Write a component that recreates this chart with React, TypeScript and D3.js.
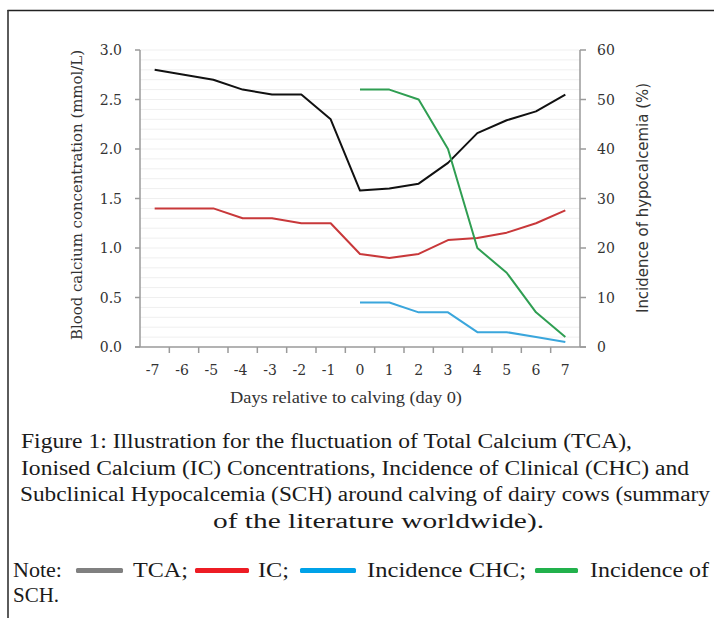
import React, { useEffect, useRef } from 'react';
import * as d3 from 'd3';

// days relative to calving
const days = [-7, -6, -5, -4, -3, -2, -1, 0, 1, 2, 3, 4, 5, 6, 7];
// blood calcium (mmol/L), left axis
const tca = [2.8, 2.75, 2.7, 2.6, 2.55, 2.55, 2.3, 1.58, 1.6, 1.65, 1.86, 2.16, 2.29, 2.38, 2.55];
const ic = [1.4, 1.4, 1.4, 1.3, 1.3, 1.25, 1.25, 0.94, 0.9, 0.94, 1.08, 1.1, 1.155, 1.25, 1.38];
// incidence (%), right axis, day 0..7
const incDays = [0, 1, 2, 3, 4, 5, 6, 7];
const chc = [9, 9, 7, 7, 3, 3, 2, 1];
const sch = [52, 52, 50, 40, 20, 15, 7, 2];

const leftTicks = [0, 0.5, 1.0, 1.5, 2.0, 2.5, 3.0];
const rightTicks = [0, 10, 20, 30, 40, 50, 60];

const captionLines = [
  'Figure 1: Illustration for the fluctuation of Total Calcium (TCA),',
  'Ionised Calcium (IC) Concentrations, Incidence of Clinical (CHC) and',
  'Subclinical Hypocalcemia (SCH) around calving of dairy cows (summary',
  'of the literature worldwide).',
];

const App = () => {
  const ref = useRef<SVGSVGElement>(null);

  useEffect(() => {
    const svg = d3.select(ref.current);
    svg.selectAll('*').remove();

    const x0 = 140, x1 = 580, yTop = 50, yBot = 347;
    const x = d3.scaleBand<number>().domain(days).range([x0, x1]);
    const cx = (d: number) => (x(d) as number) + x.bandwidth() / 2;
    const yL = d3.scaleLinear().domain([0, 3]).range([yBot, yTop]);
    const yR = d3.scaleLinear().domain([0, 60]).range([yBot, yTop]);

    // frame
    svg.append('line').attr('x1', 7.5).attr('x2', 714).attr('y1', 10.5).attr('y2', 10.5)
      .attr('stroke', '#222').attr('stroke-width', 1.6);
    svg.append('line').attr('x1', 8).attr('x2', 8).attr('y1', 10).attr('y2', 618)
      .attr('stroke', '#333').attr('stroke-width', 1.6);

    // faint grid every 0.1
    svg.append('g').selectAll('line')
      .data(d3.range(1, 31).map(i => i / 10))
      .enter().append('line')
      .attr('x1', x0).attr('x2', x1)
      .attr('y1', d => yL(d)).attr('y2', d => yL(d))
      .attr('stroke', '#efefef').attr('stroke-width', 1);

    const axisColor = '#9a9a9a';
    const tickFont = 'DejaVu Serif';

    // left axis
    const gl = svg.append('g');
    gl.append('line').attr('x1', x0).attr('x2', x0).attr('y1', yTop).attr('y2', yBot)
      .attr('stroke', axisColor).attr('stroke-width', 1.5);
    gl.selectAll('.tk').data(leftTicks).enter().append('line')
      .attr('x1', x0 - 5).attr('x2', x0).attr('y1', d => yL(d)).attr('y2', d => yL(d))
      .attr('stroke', axisColor).attr('stroke-width', 1.5);
    gl.selectAll('text').data(leftTicks).enter().append('text')
      .attr('x', 122).attr('y', d => yL(d) + 5)
      .attr('text-anchor', 'end')
      .style('font-family', tickFont).style('font-size', '14px').attr('fill', '#333')
      .text(d => d3.format('.1f')(d));

    // right axis
    const gr = svg.append('g');
    gr.append('line').attr('x1', x1).attr('x2', x1).attr('y1', yTop).attr('y2', yBot)
      .attr('stroke', axisColor).attr('stroke-width', 1.5);
    gr.selectAll('.tk').data(rightTicks).enter().append('line')
      .attr('x1', x1).attr('x2', x1 + 6).attr('y1', d => yR(d)).attr('y2', d => yR(d))
      .attr('stroke', axisColor).attr('stroke-width', 1.5);
    gr.selectAll('text').data(rightTicks).enter().append('text')
      .attr('x', 597).attr('y', d => yR(d) + 5)
      .style('font-family', tickFont).style('font-size', '14px').attr('fill', '#333')
      .text(d => d);

    // bottom axis
    const gb = svg.append('g');
    gb.append('line').attr('x1', x0 - 5).attr('x2', x1 + 6).attr('y1', yBot).attr('y2', yBot)
      .attr('stroke', axisColor).attr('stroke-width', 1.5);
    gb.selectAll('.tk').data(days.slice(1)).enter().append('line')
      .attr('x1', d => x(d) as number).attr('x2', d => x(d) as number)
      .attr('y1', yBot).attr('y2', yBot + 6)
      .attr('stroke', axisColor).attr('stroke-width', 1.5);
    gb.selectAll('text').data(days).enter().append('text')
      .attr('x', d => cx(d) - (d < 0 ? 2 : 0)).attr('y', 375)
      .attr('text-anchor', 'middle')
      .style('font-family', tickFont).style('font-size', '14px').attr('fill', '#333')
      .text(d => d);

    // axis titles
    svg.append('text')
      .attr('transform', 'translate(82,195) rotate(-90)')
      .attr('text-anchor', 'middle')
      .attr('textLength', 290).attr('lengthAdjust', 'spacingAndGlyphs')
      .style('font-family', 'DejaVu Serif').style('font-size', '14px').attr('fill', '#333')
      .text('Blood calcium concentration (mmol/L)');
    svg.append('text')
      .attr('transform', 'translate(648,198) rotate(-90)')
      .attr('text-anchor', 'middle')
      .attr('textLength', 230).attr('lengthAdjust', 'spacingAndGlyphs')
      .style('font-family', 'DejaVu Sans').style('font-size', '15px').attr('fill', '#333')
      .text('Incidence of hypocalcemia (%)');
    svg.append('text')
      .attr('x', 230).attr('y', 403)
      .attr('textLength', 232).attr('lengthAdjust', 'spacingAndGlyphs')
      .style('font-family', 'Liberation Serif').style('font-size', '17px').attr('fill', '#333')
      .text('Days relative to calving (day 0)');

    // lines
    const lineL = d3.line<number>().x((_, i) => cx(days[i])).y(d => yL(d));
    const lineR = d3.line<number>().x((_, i) => cx(incDays[i])).y(d => yR(d));
    const series = [
      { d: lineL(tca), c: '#111111' },
      { d: lineL(ic), c: '#c8383a' },
      { d: lineR(chc), c: '#3aa6dc' },
      { d: lineR(sch), c: '#2f9e52' },
    ];
    svg.append('g').selectAll('path').data(series).enter().append('path')
      .attr('d', s => s.d as string)
      .attr('fill', 'none').attr('stroke', s => s.c).attr('stroke-width', 2)
      .attr('stroke-linejoin', 'round');

    // caption
    const capPos = [
      { x: 21, w: 611, y: 448 },
      { x: 21, w: 668, y: 474.5 },
      { x: 20, w: 690, y: 501 },
      { x: 213, w: 331, y: 527.5 },
    ];
    svg.append('g').selectAll('text').data(captionLines).enter().append('text')
      .attr('x', (_, i) => capPos[i].x).attr('y', (_, i) => capPos[i].y)
      .attr('textLength', (_, i) => capPos[i].w).attr('lengthAdjust', 'spacingAndGlyphs')
      .style('font-family', 'Liberation Serif').style('font-size', '20px').attr('fill', '#1a1a1a')
      .text(d => d);

    // note legend
    const noteWords = [
      { t: 'Note:', x: 13, w: 49 },
      { t: 'TCA;', x: 133, w: 55 },
      { t: 'IC;', x: 258, w: 31 },
      { t: 'Incidence CHC;', x: 367, w: 159 },
      { t: 'Incidence of', x: 590, w: 119 },
    ];
    const swatches = [
      { x: 76, w: 47, c: '#808080' },
      { x: 195, w: 54, c: '#ed1c24' },
      { x: 300, w: 56, c: '#00a2e8' },
      { x: 535, w: 43, c: '#22b14c' },
    ];
    svg.append('g').selectAll('text').data(noteWords).enter().append('text')
      .attr('x', d => d.x).attr('y', 577)
      .attr('textLength', d => d.w).attr('lengthAdjust', 'spacingAndGlyphs')
      .style('font-family', 'Liberation Serif').style('font-size', '21px').attr('fill', '#1a1a1a')
      .text(d => d.t);
    svg.append('g').selectAll('rect').data(swatches).enter().append('rect')
      .attr('x', d => d.x).attr('y', 568).attr('width', d => d.w).attr('height', 5)
      .attr('rx', 1.5).attr('fill', d => d.c);
    svg.append('text')
      .attr('x', 13).attr('y', 602)
      .style('font-family', 'Liberation Serif').style('font-size', '21px').attr('fill', '#1a1a1a')
      .text('SCH.');
  }, []);

  return (
    <div style={{ position: 'absolute', left: 0, top: 0, background: '#fff' }}>
      <svg ref={ref} width={714} height={618}></svg>
    </div>
  );
};

export default App;
